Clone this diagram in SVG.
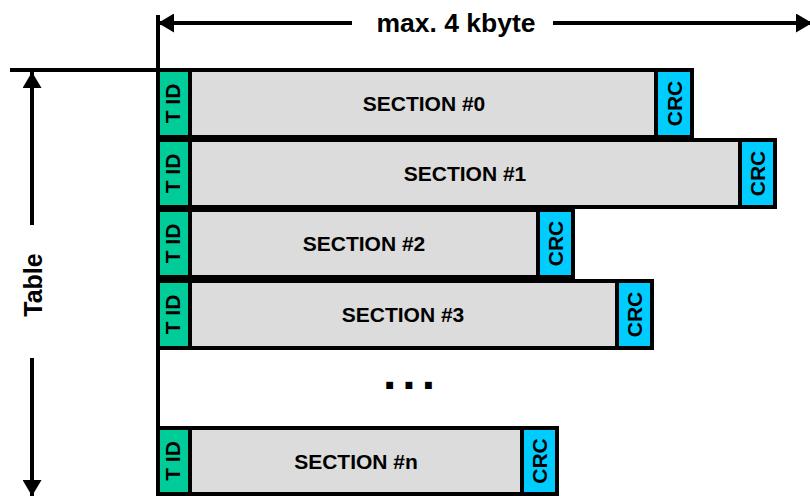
<svg xmlns="http://www.w3.org/2000/svg" width="810" height="496" viewBox="0 0 810 496">
<style>
.row{fill:#dcdcdc;stroke:#000;stroke-width:4}
.tid{fill:#00cc99;stroke:#000;stroke-width:4}
.crc{fill:#00ccff;stroke:#000;stroke-width:4}
text{font-family:"Liberation Sans",Arial,sans-serif;font-weight:bold;fill:#000}
.sec{font-size:21px;text-anchor:middle}
.lbl{font-size:21px;text-anchor:middle}
.ln{stroke:#000;stroke-width:4;fill:none}
</style>
<defs>
<marker id="ah" viewBox="0 0 16 19" refX="16" refY="9.5" markerWidth="16" markerHeight="19" markerUnits="userSpaceOnUse" orient="auto">
<path d="M0,0 L16,9.5 L0,19 Z" fill="#000"/>
</marker>
</defs>
<g id="connectors">
<line class="ln" x1="158" y1="15" x2="158" y2="430"/>
<line class="ln" x1="10" y1="70" x2="158" y2="70" stroke-width="3"/>
<line class="ln" x1="352" y1="23" x2="158" y2="23" marker-end="url(#ah)"/>
<line class="ln" x1="553" y1="23" x2="812" y2="23" marker-end="url(#ah)"/>
<line class="ln" x1="32" y1="225" x2="32" y2="72" marker-end="url(#ah)"/>
<line class="ln" x1="32" y1="358" x2="32" y2="496" marker-end="url(#ah)"/>
</g>
<g id="width-label"><text x="456" y="32" font-size="26.5" text-anchor="middle">max. 4 kbyte</text></g>
<g id="table-label"><text transform="translate(42,285) rotate(-90)" font-size="25" text-anchor="middle">Table</text></g>
<g id="section0">
<rect class="row" x="158" y="70" width="534" height="67"/>
<rect class="tid" x="158" y="70" width="32" height="67"/>
<rect class="crc" x="656" y="70" width="36" height="67"/>
<text class="sec" x="424" y="111">SECTION #0</text>
<text class="lbl" transform="translate(180,103.5) rotate(-90)">T ID</text>
<text class="lbl" transform="translate(682,103.5) rotate(-90)">CRC</text>
</g>
<g id="section1">
<rect class="row" x="158" y="140" width="617" height="67"/>
<rect class="tid" x="158" y="140" width="32" height="67"/>
<rect class="crc" x="740" y="140" width="35" height="67"/>
<text class="sec" x="465" y="181">SECTION #1</text>
<text class="lbl" transform="translate(180,173.5) rotate(-90)">T ID</text>
<text class="lbl" transform="translate(765,173.5) rotate(-90)">CRC</text>
</g>
<g id="section2">
<rect class="row" x="158" y="210" width="415" height="67"/>
<rect class="tid" x="158" y="210" width="32" height="67"/>
<rect class="crc" x="538" y="210" width="35" height="67"/>
<text class="sec" x="364" y="251">SECTION #2</text>
<text class="lbl" transform="translate(180,243.5) rotate(-90)">T ID</text>
<text class="lbl" transform="translate(563,243.5) rotate(-90)">CRC</text>
</g>
<g id="section3">
<rect class="row" x="158" y="281" width="494" height="67"/>
<rect class="tid" x="158" y="281" width="32" height="67"/>
<rect class="crc" x="617" y="281" width="35" height="67"/>
<text class="sec" x="403" y="322">SECTION #3</text>
<text class="lbl" transform="translate(180,314.5) rotate(-90)">T ID</text>
<text class="lbl" transform="translate(642,314.5) rotate(-90)">CRC</text>
</g>
<g id="ellipsis"><text x="412" y="389" font-size="48" text-anchor="middle" letter-spacing="6">...</text></g>
<g id="sectionN">
<rect class="row" x="158" y="428" width="399" height="66"/>
<rect class="tid" x="158" y="428" width="32" height="66"/>
<rect class="crc" x="522" y="428" width="35" height="66"/>
<text class="sec" x="356" y="469">SECTION #n</text>
<text class="lbl" transform="translate(180,461) rotate(-90)">T ID</text>
<text class="lbl" transform="translate(547,461) rotate(-90)">CRC</text>
</g>
</svg>
